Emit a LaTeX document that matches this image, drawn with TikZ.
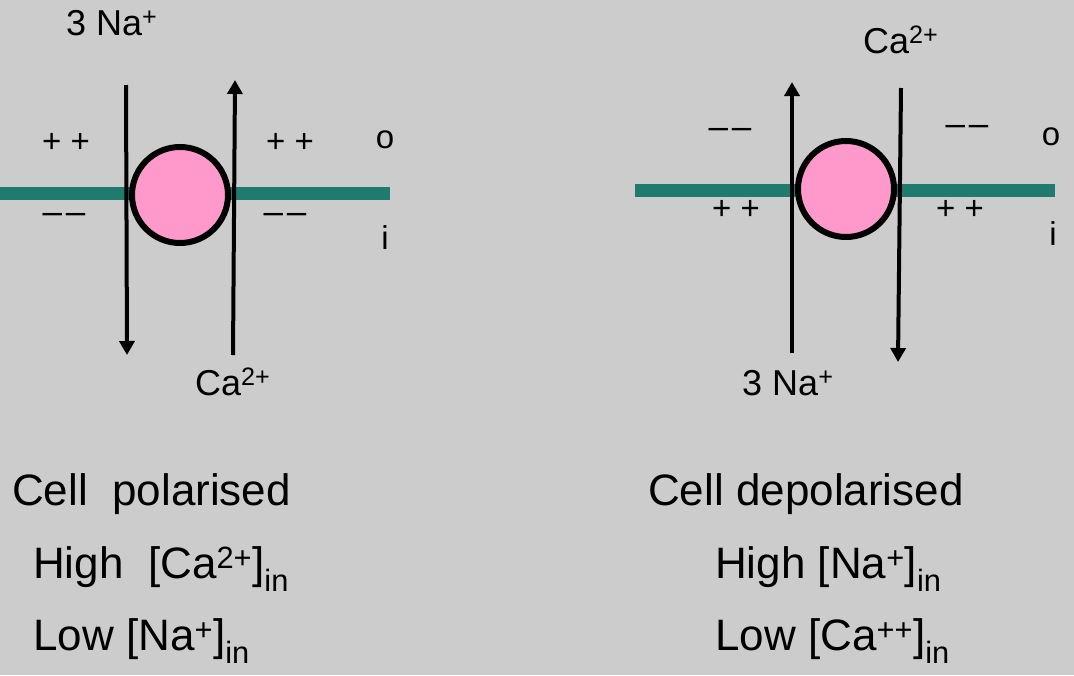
\documentclass[tikz,border=0pt]{standalone}
\usepackage{fontspec}
\setmainfont{Liberation Sans}
\usetikzlibrary{arrows.meta}
\definecolor{bg}{HTML}{CCCCCC}
\definecolor{memb}{HTML}{1E7B6E}
\definecolor{pump}{HTML}{FF99CC}
\newcommand{\mm}{–\hspace{4pt}–}
\tikzset{
  lbl/.style={font=\fontsize{33}{40}\selectfont, inner sep=0pt},
  dsh/.style={font=\fontsize{35}{40}\selectfont, inner sep=0pt},
  ion/.style={font=\fontsize{36}{42}\selectfont, inner sep=0pt, anchor=base west},
  big/.style={font=\fontsize{44}{52}\selectfont, inner sep=0pt, anchor=base west},
  membrane/.style={draw=memb, line width=13pt},
  pumpnode/.style={circle, draw=black, line width=6pt, fill=pump, minimum size=96pt, inner sep=0pt},
  flux/.style={draw=black, line width=4pt, -{Triangle[length=14pt,width=15pt]}}
}
\begin{document}
\begin{tikzpicture}[x=1pt,y=-1pt]
\fill[bg] (0,0) rectangle (1074,675);
\useasboundingbox (0,0) rectangle (1074,675);

% ---------- left panel ----------
\coordinate (mLa) at (0,193);
\coordinate (mLb) at (390,193);
\draw[membrane] (mLa) -- (mLb);
\node[pumpnode] (pL) at (180,195) {};
\coordinate (aLs) at (126,85);
\coordinate (aLe) at (127,355);
\coordinate (bLs) at (233,355);
\coordinate (bLe) at (235,80);
\draw[flux] (aLs) -- (aLe);
\draw[flux] (bLs) -- (bLe);

\node[ion] (naL) at (66,35) {3 Na\textsuperscript{+}};
\node[ion] (caL) at (195,395) {Ca\textsuperscript{2+}};
\node[lbl] (p1) at (66,143) {+ +};
\node[dsh] (n1) at (64,218) {\mm};
\node[lbl] (p2) at (290,143) {+ +};
\node[dsh] (n2) at (285,218) {\mm};
\node[lbl] (oL) at (385,140) {o};
\node[lbl] (iL) at (385,238) {i};

\node[big] (t1) at (12,505) {Cell\ \ polarised};
\node[big] (t2) at (33,578) {High\ \ [Ca\textsuperscript{2+}]\textsubscript{in}};
\node[big] (t3) at (33,650) {Low [Na\textsuperscript{+}]\textsubscript{in}};

% ---------- right panel ----------
\coordinate (mRa) at (635,190);
\coordinate (mRb) at (1055,190);
\draw[membrane] (mRa) -- (mRb);
\node[pumpnode] (pR) at (846,189) {};
\coordinate (aRs) at (792,353);
\coordinate (aRe) at (792,82);
\coordinate (bRs) at (901,88);
\coordinate (bRe) at (898,362);
\draw[flux] (aRs) -- (aRe);
\draw[flux] (bRs) -- (bRe);

\node[ion] (caR) at (863,53) {Ca\textsuperscript{2+}};
\node[ion] (naR) at (742,395) {3 Na\textsuperscript{+}};
\node[dsh] (n3) at (730,133) {\mm};
\node[lbl] (p3) at (736,210) {+ +};
\node[dsh] (n4) at (967,130) {\mm};
\node[lbl] (p4) at (960,210) {+ +};
\node[lbl] (oR) at (1051,137) {o};
\node[lbl] (iR) at (1053,234) {i};

\node[big] (t4) at (648,505) {Cell depolarised};
\node[big] (t5) at (715,578) {High [Na\textsuperscript{+}]\textsubscript{in}};
\node[big] (t6) at (715,650) {Low [Ca\textsuperscript{++}]\textsubscript{in}};
\end{tikzpicture}
\end{document}
